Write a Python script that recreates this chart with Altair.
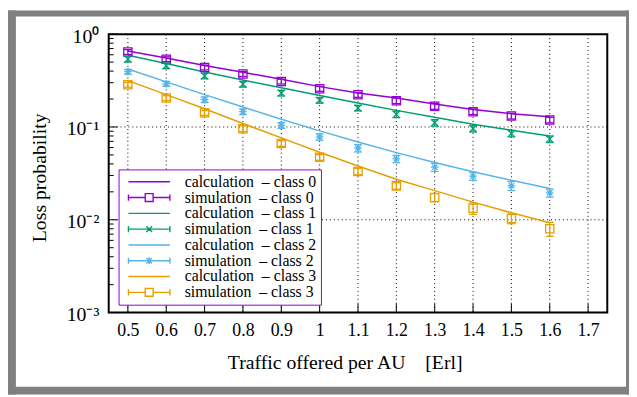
import altair as alt
import pandas as pd

# ---------------- data ----------------
X = [0.5, 0.6, 0.7, 0.8, 0.9, 1.0, 1.1, 1.2, 1.3, 1.4, 1.5, 1.6]

calc0 = [0.659, 0.555, 0.460, 0.388, 0.326, 0.272, 0.232, 0.205, 0.177, 0.154, 0.139, 0.129]
sim0 = [0.643, 0.538, 0.438, 0.373, 0.309, 0.258, 0.222, 0.192, 0.167, 0.146, 0.131, 0.119]
err0 = [0.06, 0.06, 0.06, 0.06, 0.06, 0.06, 0.06, 0.07, 0.07, 0.07, 0.07, 0.07]

calc1 = [0.593, 0.482, 0.392, 0.321, 0.264, 0.218, 0.181, 0.151, 0.127, 0.107, 0.092, 0.080]
sim1 = [0.538, 0.457, 0.355, 0.289, 0.232, 0.194, 0.160, 0.137, 0.111, 0.096, 0.085, 0.074]
err1 = [0.07, 0.07, 0.07, 0.07, 0.07, 0.07, 0.07, 0.08, 0.08, 0.08, 0.08, 0.08]

calc2 = [0.421, 0.306, 0.223, 0.164, 0.121, 0.0907, 0.0688, 0.0529, 0.0414, 0.0330, 0.0266, 0.0217]
sim2 = [0.394, 0.292, 0.197, 0.146, 0.104, 0.0782, 0.0591, 0.0453, 0.0369, 0.0296, 0.0232, 0.0195]
err2 = [0.06, 0.06, 0.07, 0.07, 0.07, 0.08, 0.09, 0.09, 0.10, 0.10, 0.11, 0.10]

calc3 = [0.316, 0.223, 0.157, 0.109, 0.0764, 0.0535, 0.0380, 0.0273, 0.0206, 0.0155, 0.0119, 0.0093]
sim3 = [0.285, 0.205, 0.142, 0.0959, 0.0664, 0.0471, 0.0332, 0.0232, 0.0174, 0.0133, 0.0103, 0.0080]
err3 = [0.06, 0.06, 0.06, 0.07, 0.07, 0.07, 0.08, 0.08, 0.10, 0.14, 0.12, 0.17]

CALC = [calc0, calc1, calc2, calc3]
SIM = [sim0, sim1, sim2, sim3]
ERR = [err0, err1, err2, err3]
COLORS = ["#9400D3", "#009E73", "#56B4E9", "#E69F00"]

XTICKS = [0.5, 0.6, 0.7, 0.8, 0.9, 1.0, 1.1, 1.2, 1.3, 1.4, 1.5, 1.6, 1.7]
YMAJOR = [1.0, 0.1, 0.01, 0.001]
YGRID = [0.1, 0.01]
MANTISSAS = [2, 3, 4, 5, 6, 7, 8, 9]
DECADES = [0.001, 0.01, 0.1]
YMINOR = [m * d for d in DECADES for m in MANTISSAS]

NB = "\u00a0"
LEGEND_LABELS = [
    f"calculation{NB}{NB}– class 0", f"simulation{NB}{NB}– class 0",
    f"calculation{NB}{NB}– class 1", f"simulation{NB}{NB}– class 1",
    f"calculation{NB}{NB}– class 2", f"simulation{NB}{NB}– class 2",
    f"calculation{NB}{NB}– class 3", f"simulation{NB}{NB}– class 3",
]
# invisible trailing padding so the legend box is as wide as in the reference
LEGEND_DISPLAY_PAD = NB * 6

# ---------------- marker / legend symbol shapes ----------------
SQUARE = "M-1,-1H1V1H-1Z"
XMARK = "M-1,-1L1,1M-1,1L1,-1"
STAR = "M-1,0H1M0,-1V1M-0.7,-0.7L0.7,0.7M-0.7,0.7L0.7,-0.7"
CAP = "M-1,0H1"
MARKERS = [(SQUARE, 70), (XMARK, 45), (STAR, 60), (SQUARE, 70)]

LEG_LINE = "M-1,0H1"
LEG_CAPS = "M-1,-0.15V0.15M1,-0.15V0.15"
LEG_SQ = "M-1,0H-0.19M0.19,0H1" + LEG_CAPS + "M-0.19,-0.19H0.19V0.19H-0.19Z"
LEG_X = "M-1,0H1" + LEG_CAPS + "M-0.14,-0.14L0.14,0.14M-0.14,0.14L0.14,-0.14"
LEG_STAR = "M-1,0H1" + LEG_CAPS + "M0,-0.17V0.17M-0.13,-0.13L0.13,0.13M-0.13,0.13L0.13,-0.13"
LEGEND_SHAPES = [LEG_LINE, LEG_SQ, LEG_LINE, LEG_X, LEG_LINE, LEG_STAR, LEG_LINE, LEG_SQ]
LEGEND_COLORS = [c for c in COLORS for _ in range(2)]

FONT = "Liberation Serif"
W, H = 505, 282

# ---------------- scales / axes ----------------
xs = alt.Scale(domain=[0.45, 1.75], nice=False, zero=False)
ys = alt.Scale(type="log", domain=[0.001, 1], nice=False)

xaxis = alt.Axis(values=XTICKS, format="~g",
                 title=f"Traffic offered per AU{NB}{NB}{NB}{NB}[Erl]",
                 labelPadding=9, titlePadding=14, titleFontSize=20, titleX=239, titleAlign="center")
yaxis = alt.Axis(values=YMAJOR, title="Loss probability", labelPadding=10, labelFontSize=20,
                 labelExpr="datum.value > 0.5 ? '10⁰' : datum.value > 0.05 ? '10⁻¹' : datum.value > 0.005 ? '10⁻²' : '10⁻³'",
                 labelOffset=2,
                 titleX=-70, titleY=145, titleAlign="center", titleBaseline="middle", titleAngle=270,
                 titleFontSize=20)


def xe(f="x"):
    return alt.X(f"{f}:Q", scale=xs, axis=xaxis)


def ye(f="y"):
    return alt.Y(f"{f}:Q", scale=ys, axis=yaxis)


layers = []

# gray frame around the figure (outside the plot area)
one = pd.DataFrame({"k": [0]})
for x0, x1, y0, y1 in [(-102, -94, -24, 365), (524, 527, -24, 365), (-102, 527, -24, -18), (-102, 527, 357, 365)]:
    layers.append(alt.Chart(one).mark_rect(color="#808080").encode(
        x=alt.value(x0), x2=alt.value(x1), y=alt.value(y0), y2=alt.value(y1)))

# grid
layers.append(alt.Chart(pd.DataFrame({"x": XTICKS})).mark_rule(
    color="black", strokeWidth=1, strokeDash=[1, 3]).encode(x=xe()))
layers.append(alt.Chart(pd.DataFrame({"y": YGRID})).mark_rule(
    color="black", strokeWidth=1, strokeDash=[1, 3]).encode(y=ye()))

# inward ticks
layers.append(alt.Chart(pd.DataFrame({"x": XTICKS})).mark_rule(color="black", strokeWidth=1).encode(
    x=xe(), y=alt.value(H), y2=alt.value(H - 9)))
layers.append(alt.Chart(pd.DataFrame({"y": YMAJOR})).mark_rule(color="black", strokeWidth=1).encode(
    y=ye(), x=alt.value(0), x2=alt.value(9)))
layers.append(alt.Chart(pd.DataFrame({"y": YMINOR})).mark_rule(color="black", strokeWidth=1).encode(
    y=ye(), x=alt.value(0), x2=alt.value(5)))

# calculation lines
for i in range(4):
    df = pd.DataFrame({"x": X, "y": CALC[i]})
    layers.append(alt.Chart(df).mark_line(color=COLORS[i], strokeWidth=1.5).encode(x=xe(), y=ye()))

# simulation points with error bars
for i in range(4):
    df = pd.DataFrame({"x": X, "y": SIM[i], "e": ERR[i]})
    base = alt.Chart(df).transform_calculate(lo="datum.y*(1-datum.e)", hi="datum.y*(1+datum.e)")
    layers.append(base.mark_rule(color=COLORS[i], strokeWidth=1.3).encode(x=xe(), y=ye("lo"), y2="hi:Q"))
    layers.append(base.mark_point(shape=CAP, size=64, filled=False, color=COLORS[i], strokeWidth=1.3,
                                  opacity=1).encode(x=xe(), y=ye("lo")))
    layers.append(base.mark_point(shape=CAP, size=64, filled=False, color=COLORS[i], strokeWidth=1.3,
                                  opacity=1).encode(x=xe(), y=ye("hi")))
    shp, sz = MARKERS[i]
    layers.append(base.mark_point(shape=shp, size=sz, filled=False, color=COLORS[i], strokeWidth=1.3,
                                  opacity=1).encode(x=xe(), y=ye()))

# legend (drawn by the library from an empty layer with explicit domains)
leg_df = pd.DataFrame({"label": LEGEND_LABELS, "x": [1.0] * 8, "y": [0.5] * 8})
leg = alt.Legend(orient="none", legendX=10, legendY=137, title=None,
                 padding=4.5, strokeColor="#9400D3", fillColor="white", cornerRadius=0,
                 labelFont=FONT, labelFontSize=16, labelColor="black",
                 labelExpr=f"datum.label + '{LEGEND_DISPLAY_PAD}'",
                 symbolSize=1764, symbolStrokeWidth=1.4, clipHeight=16, rowPadding=0,
                 symbolOffset=4.5, labelOffset=14, labelLimit=400)
layers.append(alt.Chart(leg_df).transform_filter("false").mark_point(filled=False, opacity=1).encode(
    x=xe(), y=ye(),
    color=alt.Color("label:N", scale=alt.Scale(domain=LEGEND_LABELS, range=LEGEND_COLORS), legend=leg),
    shape=alt.Shape("label:N", scale=alt.Scale(domain=LEGEND_LABELS, range=LEGEND_SHAPES), legend=leg),
))

chart = alt.layer(*layers).properties(
    width=W, height=H,
    padding={"left": 102, "top": 24, "right": 22, "bottom": 83},
    autosize=alt.AutoSizeParams(type="none"),
    background="white",
).configure_view(stroke="black", strokeWidth=2).configure_axis(
    domain=False, ticks=False, tickSize=0, grid=False,
    labelFont=FONT, labelFontSize=18, labelColor="black",
    titleFont=FONT, titleFontSize=20, titleFontWeight="normal", titleColor="black",
)

chart.save("out.html", embed_options={"renderer": "svg", "actions": False})
